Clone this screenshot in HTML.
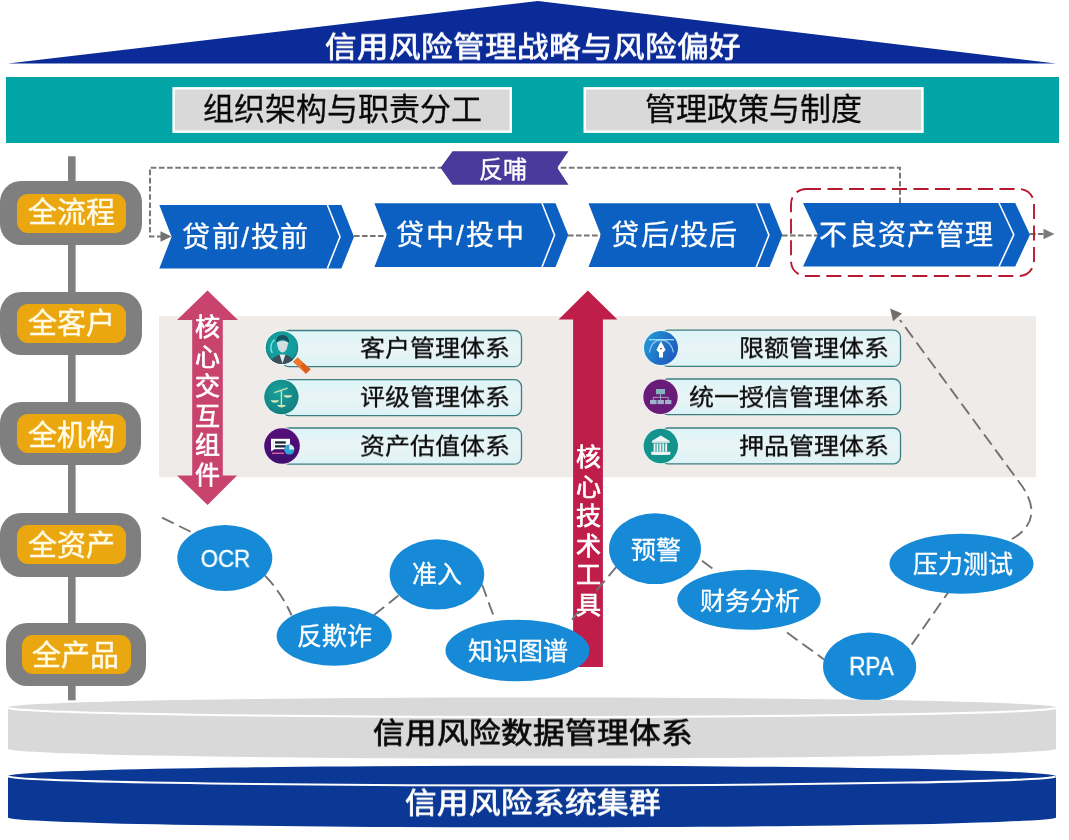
<!DOCTYPE html>
<html lang="zh-CN"><head><meta charset="utf-8">
<style>
html,body{margin:0;padding:0;background:#fff;width:1069px;height:840px;overflow:hidden;}
svg{position:absolute;left:0;top:0;display:block;}
.t{position:absolute;font-family:"Liberation Sans",sans-serif;white-space:nowrap;line-height:1;-webkit-font-smoothing:antialiased;will-change:transform;}
.w{color:#fff;-webkit-text-stroke-width:0.3px;}
.k{color:#0a0a0a;-webkit-text-stroke-width:0.3px;}
.b{font-weight:normal;-webkit-text-stroke-width:0.8px;}
.vb{-webkit-text-stroke-width:0.7px;}
.sq{transform:scaleY(0.9);transform-origin:50% 50%;}
.sq2{transform:scaleY(0.92);transform-origin:50% 50%;}
.cr{color:#fffbe6;-webkit-text-stroke-width:0.4px;}
.v{white-space:normal;text-align:center;}
</style></head>
<body>
<svg width="1069" height="840" viewBox="0 0 1069 840">
<defs>
<linearGradient id="boxg" x1="0" y1="0" x2="0" y2="1">
<stop offset="0" stop-color="#dcf5f8"/><stop offset="0.5" stop-color="#eaf4f6"/><stop offset="1" stop-color="#dcf3f6"/>
</linearGradient>
<radialGradient id="tealg" cx="0.5" cy="0.45" r="0.55">
<stop offset="0" stop-color="#16a7a6"/><stop offset="0.8" stop-color="#149a9a"/><stop offset="1" stop-color="#1c7778"/>
</radialGradient>
</defs>
<!-- top triangle -->
<polygon points="8,63.5 538,1 1056,63.5" fill="#0a2b98"/>
<!-- teal band -->
<rect x="6" y="77" width="1053" height="66" fill="#02a5a5"/>
<rect x="173.6" y="88.3" width="337.2" height="43.4" fill="#d9d9d9" stroke="#fff" stroke-width="2.4"/>
<rect x="584.7" y="88.3" width="337.8" height="43.4" fill="#d9d9d9" stroke="#fff" stroke-width="2.4"/>

<!-- left vertical line -->
<rect x="68" y="156.3" width="7.6" height="544" fill="#7f7f7f"/>

<!-- light gray band -->
<rect x="159" y="316.2" width="877" height="161" fill="#efebe8"/>

<!-- feedback loop dashed -->
<path d="M900 203 V167.7 H150 V236.4 H161" fill="none" stroke="#787878" stroke-width="2" stroke-dasharray="5.6 2.6"/>
<polygon points="160.5,231.3 171.5,236.4 160.5,241.8" fill="#707070"/>
<!-- connectors between chevrons -->
<path d="M354 236 H388 M568 235.5 H602 M782 235.5 H818 M1030 234 H1044" stroke="#767670" stroke-width="1.8" stroke-dasharray="5.6 2.4" fill="none"/>
<polygon points="1043.5,228.7 1054.5,234 1043.5,239.3" fill="#7a7a7a"/>

<!-- feedback label -->
<polygon points="440.5,167.8 452.5,151.3 568.5,151.3 557.2,167.8 568.5,184.7 452.5,184.7" fill="#4a3a9b"/>

<!-- chevrons -->
<g fill="#0c60c2">
<polygon points="159.3,205 341.4,205 354,236.7 341.4,268.5 159.3,268.5 171.6,236.7"/>
<polygon points="374.4,203.2 555.5,203.2 568.3,235.1 555.5,267 374.4,267 386.8,235.1"/>
<polygon points="588.5,203.2 769.6,203.2 782.4,235.1 769.6,267 588.5,267 600.9,235.1"/>
<polygon points="803,203 1015.2,203 1030,234.7 1015.2,266.5 803,266.5 817.8,234.7"/>
</g>
<g fill="none" stroke="#fff" stroke-width="1.6">
<polyline points="327.4,205 340,236.7 327.4,268.5"/>
<polyline points="542,203.2 554.6,235.1 542,267"/>
<polyline points="756.3,203.2 768.9,235.1 756.3,267"/>
<polyline points="999,203 1013.8,234.7 999,266.5"/>
</g>
<!-- red dashed box -->
<rect x="791" y="189" width="243" height="87" rx="15" fill="none" stroke="#b71a30" stroke-width="1.9" stroke-dasharray="15 6.5"/>

<!-- pills -->
<g fill="#7f7f7f">
<rect x="0" y="181" width="142" height="64" rx="21"/>
<rect x="0" y="292" width="142" height="63" rx="21"/>
<rect x="0" y="402" width="141" height="63" rx="21"/>
<rect x="0" y="513" width="141" height="64" rx="21"/>
<rect x="6" y="623" width="140" height="63" rx="21"/>
</g>
<g fill="#eaa70f">
<rect x="17" y="194" width="109" height="39" rx="11"/>
<rect x="17" y="304" width="109" height="39" rx="11"/>
<rect x="17" y="414" width="109" height="39" rx="11"/>
<rect x="17" y="525" width="109" height="39" rx="11"/>
<rect x="22" y="635" width="109" height="39" rx="11"/>
</g>

<!-- item boxes -->
<g fill="url(#boxg)" stroke="#3f7e80" stroke-width="1.3">
<rect x="282" y="330.5" width="239.5" height="36.2" rx="7"/>
<rect x="282" y="379.7" width="239.5" height="35.9" rx="7"/>
<rect x="282" y="428" width="239.5" height="36.2" rx="7"/>
<rect x="661" y="330.2" width="239.5" height="36.2" rx="7"/>
<rect x="661" y="379" width="239.5" height="35.7" rx="7"/>
<rect x="661" y="428" width="239.5" height="35.8" rx="7"/>
</g>

<!-- icon 1: customer (magnifier + person) -->
<g>
<clipPath id="c1"><circle cx="282" cy="347.6" r="16.3"/></clipPath>
<polygon points="292.8,361.8 297.6,357.2 310.6,369.2 305.8,373.8" fill="#ee7a2c"/>
<polygon points="300.5,365.8 303.2,363 310.6,369.2 305.8,373.8" fill="#d6601e"/>
<circle cx="282" cy="347.6" r="17.6" fill="#eef8f8"/>
<circle cx="282" cy="347.6" r="16.3" fill="url(#tealg)"/>
<g clip-path="url(#c1)">
<path d="M269.5 367 Q270.5 355.5 282.5 354.2 Q294.5 355.5 295.5 367 Z" fill="#3c4d5c"/>
<polygon points="279.6,354.6 285.4,354.6 282.5,363.5" fill="#e6eef0"/>
<path d="M276 343 Q276 335 282.5 335 Q289 335 289 343 Q286 339.5 282.5 339.5 Q279 339.5 276 343 Z" fill="#174f5a"/>
<path d="M276.6 342.4 Q282.5 339.3 288.4 342.4 L286.4 349.8 Q282.5 355.2 278.6 349.8 Z" fill="#d2dfe2"/>
</g>
<path d="M272.2 353 A11 11 0 0 1 274.5 339.5" fill="none" stroke="#6ff0f2" stroke-width="1.4"/>
</g>
<!-- icon 2: scales -->
<g>
<radialGradient id="scg" cx="0.4" cy="0.35" r="0.7"><stop offset="0" stop-color="#17a09a"/><stop offset="1" stop-color="#147e80"/></radialGradient>
<circle cx="281.4" cy="397" r="18" fill="#e6f8f8"/>
<circle cx="281.4" cy="397" r="17.2" fill="url(#scg)"/>
<path d="M274.3 392.7 L287.6 388.2" stroke="#cfe3b9" stroke-width="1.3" fill="none"/>
<path d="M281.4 390.8 V405.2" stroke="#cfe3b9" stroke-width="1.4" fill="none"/>
<path d="M270.5 400.2 H279.2 Q278 402.7 274.8 402.7 Q271.7 402.7 270.5 400.2Z" fill="#d6e6bb"/>
<path d="M283.2 395.2 H292.5 Q291.3 397.8 287.8 397.8 Q284.4 397.8 283.2 395.2Z" fill="#d6e6bb"/>
<path d="M276.8 405 H286.2 Q285 407.4 281.5 407.4 Q278 407.4 276.8 405Z" fill="#d6e6bb"/>
</g>
<!-- icon 3: asset valuation -->
<g>
<linearGradient id="pug" x1="0" y1="0" x2="0" y2="1"><stop offset="0" stop-color="#560f7a"/><stop offset="1" stop-color="#3e106e"/></linearGradient>
<circle cx="282" cy="446" r="18.6" fill="#f6e8f8"/>
<circle cx="282" cy="446" r="17.8" fill="url(#pug)"/>
<rect x="271" y="438.8" width="19" height="10.4" fill="#fff"/>
<polygon points="271,449 274.5,449 271.3,451.6" fill="#fff"/>
<rect x="275" y="441.3" width="10.8" height="2.3" fill="#15263a"/>
<rect x="275" y="445.2" width="10.8" height="2.3" fill="#15263a"/>
<path d="M273.3 440.5 V448" stroke="#9a8aa8" stroke-width="0.6" stroke-dasharray="1 1"/>
<rect x="272" y="452.6" width="12" height="1.3" fill="#e86aa0"/>
<circle cx="289.3" cy="449.6" r="5" fill="#2ea6cf"/>
<path d="M289.3 449.6 L289.3 444.6 A5 5 0 0 1 294.3 449.6 Z" fill="#dcf2f8"/>
</g>
<!-- icon 4: limit (pen) -->
<g>
<linearGradient id="peng" x1="0" y1="0.3" x2="1" y2="0.8"><stop offset="0" stop-color="#2497d8"/><stop offset="0.55" stop-color="#1f6fc6"/><stop offset="1" stop-color="#2257c0"/></linearGradient>
<circle cx="661" cy="348" r="18" fill="#e4f7fb"/>
<circle cx="661" cy="348" r="17" fill="url(#peng)"/>
<path d="M649.5 352.5 Q651 340.5 661 339.8 Q671 340.5 673.5 352.5" fill="none" stroke="#8cc4f2" stroke-width="1.3"/>
<path d="M649 339.7 H674" stroke="#9fe2f6" stroke-width="1.3"/>
<path d="M661 341 L665.6 350 L663 352.6 V357.5 H659 V352.6 L656.4 350 Z" fill="#fff"/>
<circle cx="661" cy="348.6" r="0.9" fill="#7a4a3a"/>
</g>
<!-- icon 5: org chart -->
<g>
<circle cx="660.5" cy="396.8" r="18" fill="#f4e6f4"/>
<circle cx="660.5" cy="396.8" r="17.2" fill="#691c77"/>
<rect x="656" y="389" width="9" height="5.2" fill="#86b3c2"/>
<path d="M660.5 394.2 V397.3 M653.3 400 V397.3 H668.2 V400 M660.6 397.3 V400" stroke="#9cb3c9" stroke-width="0.9" fill="none"/>
<rect x="650" y="400" width="6.6" height="4.1" fill="#9cb3c9"/>
<rect x="657.5" y="400" width="6.4" height="4.1" fill="#9cb3c9"/>
<rect x="665" y="400" width="6.4" height="4.1" fill="#9cb3c9"/>
</g>
<!-- icon 6: bank -->
<g>
<circle cx="660.8" cy="446" r="18" fill="#e2f7f7"/>
<circle cx="660.8" cy="446" r="17.2" fill="#13938c"/>
<path d="M660.8 435.6 L670.2 441.2 H651.4Z" fill="#eef3f4"/>
<rect x="652" y="441.2" width="17.6" height="1.6" fill="#eef3f4"/>
<g fill="#eef3f4"><rect x="653.6" y="443.4" width="1.9" height="8.3"/><rect x="656.5" y="443.4" width="1.9" height="8.3"/><rect x="659.4" y="443.4" width="1.9" height="8.3"/><rect x="662.3" y="443.4" width="1.9" height="8.3"/><rect x="665.2" y="443.4" width="1.9" height="8.3"/></g>
<path d="M651 451.8 H670.6 L670.2 454.7 Q660.8 455.4 651.4 454.7 Z" fill="#eef3f4"/>
</g>

<!-- pink double arrow -->
<polygon points="207.5,290.4 238,319.9 222.8,319.9 222.8,475.6 237,475.6 207.6,504.9 177,475.6 192.2,475.6 192.2,319.9 177,319.9" fill="#c8436d"/>
<!-- crimson up arrow -->
<polygon points="587.8,290.5 617.4,319.5 602.9,319.5 602.9,667 573.1,667 573.1,319.5 558.6,319.5" fill="#bf1e4b"/>

<!-- dashed connectors between ellipses -->
<g fill="none" stroke="#727272" stroke-width="1.9" stroke-dasharray="13 6">
<path d="M162 517.6 L194 533.4"/>
<path d="M265 575.7 Q281 592 291.6 615.3"/>
<path d="M374 615 L398.4 595.5"/>
<path d="M482 584.5 L495 619.7"/>
<path d="M572 619.7 L620 562.5"/>
<path d="M702 560.8 L716.4 571.6"/>
<path d="M787 632.5 L824 659.4"/>
<path d="M911.7 644.6 L948.5 592"/>
<path d="M1012 539 Q1045 520 1022 486 L900 320"/>
</g>
<polygon points="890.1,308.4 902,313.5 893.1,321.2" fill="#707070"/>

<!-- ellipses -->
<g fill="#168ad7">
<ellipse cx="224.8" cy="558" rx="47.5" ry="33"/>
<ellipse cx="334.2" cy="636" rx="57.6" ry="29.7"/>
<ellipse cx="436.9" cy="574.4" rx="47.3" ry="35.2"/>
<ellipse cx="517.5" cy="650.5" rx="72" ry="30.8"/>
<ellipse cx="655" cy="548.7" rx="46" ry="35.4"/>
<ellipse cx="749" cy="599.8" rx="71.7" ry="30"/>
<ellipse cx="869.6" cy="666.5" rx="46.6" ry="34"/>
<ellipse cx="961.5" cy="563.7" rx="72" ry="30"/>
</g>

<!-- bottom cylinders -->
<path d="M8 707 A524 10 0 0 1 1056 708 L1056 748.5 A524 9.8 0 0 1 8 749 Z" fill="#d9d9d9"/>
<path d="M8 707 A524 9.5 0 0 0 1056 708" fill="none" stroke="#fff" stroke-width="2"/>
<path d="M8 776.3 A524 10.5 0 0 1 1056 776 L1056 817 A524 10 0 0 1 8 817.7 Z" fill="#0a3894"/>
<path d="M8 776.3 A524 9.3 0 0 0 1056 776" fill="none" stroke="#fff" stroke-width="2"/>
</svg>

<!-- texts -->
<div class="t w b sq" style="left:-2px;top:32px;width:1069px;text-align:center;font-size:31.6px">信用风险管理战略与风险偏好</div>
<div class="t k" style="left:172px;top:94px;width:341px;text-align:center;font-size:31px">组织架构与职责分工</div>
<div class="t k" style="left:582px;top:94px;width:342px;text-align:center;font-size:31px">管理政策与制度</div>

<div class="t w" style="left:439.5px;top:158px;width:126px;text-align:center;font-size:24px;-webkit-text-stroke:0.35px #fff">反哺</div>

<div class="t w" style="left:161px;top:224px;width:170px;text-align:center;font-size:28px;letter-spacing:1.6px">贷前/投前</div>
<div class="t w" style="left:376px;top:222px;width:170px;text-align:center;font-size:28px;letter-spacing:2px">贷中/投中</div>
<div class="t w" style="left:590px;top:222px;width:170px;text-align:center;font-size:28px;letter-spacing:1.6px">贷后/投后</div>
<div class="t w" style="left:806.5px;top:222px;width:200px;text-align:center;font-size:28px;letter-spacing:1.2px">不良资产管理</div>

<div class="t cr" style="left:16px;top:198.5px;width:111px;text-align:center;font-size:29px">全流程</div>
<div class="t cr" style="left:15.5px;top:309.5px;width:111px;text-align:center;font-size:29px">全客户</div>
<div class="t cr" style="left:16px;top:421.5px;width:111px;text-align:center;font-size:29px">全机构</div>
<div class="t cr" style="left:16px;top:531.5px;width:111px;text-align:center;font-size:29px">全资产</div>
<div class="t cr" style="left:20px;top:641.5px;width:111px;text-align:center;font-size:29px">全产品</div>

<div class="t k sq2" style="left:300px;top:336px;width:210px;text-align:right;font-size:25px">客户管理体系</div>
<div class="t k sq2" style="left:300px;top:385px;width:210px;text-align:right;font-size:25px">评级管理体系</div>
<div class="t k sq2" style="left:300px;top:433.5px;width:210px;text-align:right;font-size:25px">资产估值体系</div>
<div class="t k sq2" style="left:600px;top:336px;width:289px;text-align:right;font-size:25px">限额管理体系</div>
<div class="t k sq2" style="left:600px;top:385px;width:289px;text-align:right;font-size:25px">统一授信管理体系</div>
<div class="t k sq2" style="left:600px;top:433.5px;width:289px;text-align:right;font-size:25px">押品管理体系</div>

<div class="t w vb v" style="left:195px;top:312.5px;width:25px;font-size:25px;line-height:29.5px">核<br>心<br>交<br>互<br>组<br>件</div>
<div class="t w vb v" style="left:576px;top:443px;width:25px;font-size:25px;line-height:29.5px">核<br>心<br>技<br>术<br>工<br>具</div>

<div class="t w" style="left:177.5px;top:547px;width:95px;text-align:center;font-size:24px;transform:scaleX(0.93)">OCR</div>
<div class="t w" style="left:277px;top:624px;width:115px;text-align:center;font-size:25px">反欺诈</div>
<div class="t w" style="left:389px;top:562px;width:95px;text-align:center;font-size:25px">准入</div>
<div class="t w" style="left:445px;top:639px;width:145px;text-align:center;font-size:25px">知识图谱</div>
<div class="t w" style="left:609.5px;top:538px;width:92px;text-align:center;font-size:25px">预警</div>
<div class="t w" style="left:678px;top:588.5px;width:144px;text-align:center;font-size:25px">财务分析</div>
<div class="t w" style="left:825px;top:654px;width:93px;text-align:center;font-size:25px;transform:scaleX(0.9)">RPA</div>
<div class="t w" style="left:890px;top:552px;width:145px;text-align:center;font-size:25px">压力测试</div>

<div class="t k b sq" style="left:-2.5px;top:718px;width:1069px;text-align:center;font-size:31.6px">信用风险数据管理体系</div>
<div class="t w b sq" style="left:-2px;top:787.5px;width:1069px;text-align:center;font-size:31.6px">信用风险系统集群</div>
</body></html>
